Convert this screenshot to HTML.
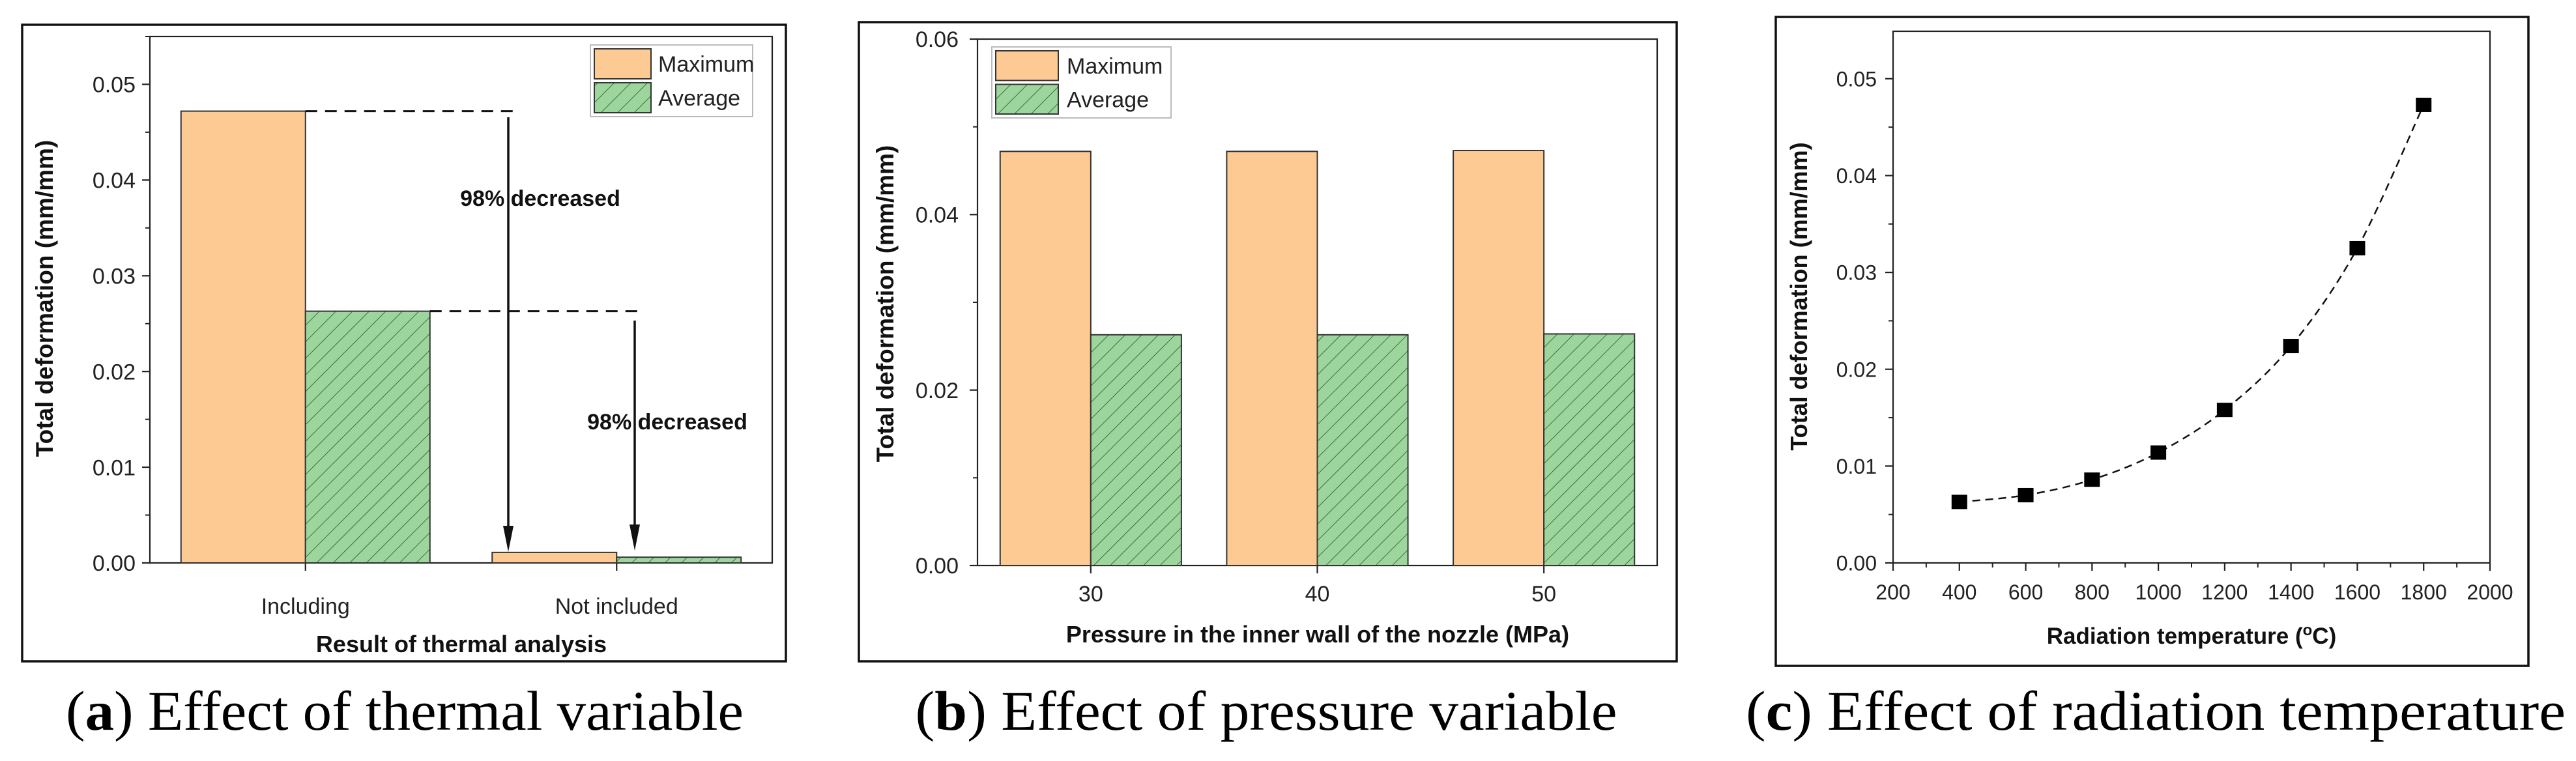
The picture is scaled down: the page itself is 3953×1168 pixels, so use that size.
<!DOCTYPE html>
<html><head><meta charset="utf-8"><style>
html,body{margin:0;padding:0;background:#fff;}
svg{display:block;font-family:"Liberation Sans",Arial,sans-serif;}
.cap{font-family:"Liberation Serif",serif;font-size:86px;}
</style></head><body>
<svg id="root" xmlns="http://www.w3.org/2000/svg" width="3953" height="1168" viewBox="0 0 3953 1168">
<defs>
<pattern id="hatch" patternUnits="userSpaceOnUse" width="18" height="18" patternTransform="rotate(45)">
<rect width="18" height="18" fill="#9dd69c"/>
<line x1="0" y1="0" x2="0" y2="18" stroke="#2f4f2f" stroke-width="1.6"/>
</pattern>
</defs>
</svg>
<script>
// Panel A data
const aCategories = ["Including", "Not included"];
const aMaximum = [0.0472, 0.0011];
const aAverage = [0.0263, 0.0006];
const aYTicks = [0.00, 0.01, 0.02, 0.03, 0.04, 0.05];
// Panel B data
const bCategories = [30, 40, 50];
const bMaximum = [0.0472, 0.0472, 0.0473];
const bAverage = [0.0263, 0.0263, 0.0264];
const bYTicks = [0.00, 0.02, 0.04, 0.06];
// Panel C data
const cTemps = [400, 600, 800, 1000, 1200, 1400, 1600, 1800];
const cDeform = [0.0063, 0.0070, 0.0086, 0.0114, 0.0158, 0.0224, 0.0325, 0.0473];
const cXTicks = [200, 400, 600, 800, 1000, 1200, 1400, 1600, 1800, 2000];
const cYTicks = [0.00, 0.01, 0.02, 0.03, 0.04, 0.05];

const NS = "http://www.w3.org/2000/svg";
const root = document.getElementById("root");
function mk(tag, attrs, parent) {
  const e = document.createElementNS(NS, tag);
  for (const k in attrs) e.setAttribute(k, attrs[k]);
  (parent || root).appendChild(e);
  return e;
}
function txt(s, attrs, parent) { const t = mk("text", attrs, parent); t.textContent = s; return t; }
function lin(d0, d1, r0, r1) { return v => r0 + (v - d0) / (d1 - d0) * (r1 - r0); }

function frame(x, y, w, h, name) {
  const r = mk("rect", {x, y, width: w, height: h, fill: "none", stroke: "#111", "stroke-width": 3.5});
  
  
}
function axesBox(x0, y0, x1, y1, name) {
  const g = mk("g", {});
  
  
  mk("rect", {x: x0, y: y0, width: x1 - x0, height: y1 - y0, fill: "none", stroke: "#222", "stroke-width": 2.2}, g);
  return g;
}
function yAxis(ticks, ys, xAxis, minorStep, yMax, fmt, fs, labelRight) {
  const g = mk("g", {});
  
  
  ticks.forEach(v => {
    mk("line", {x1: xAxis - 12, x2: xAxis, y1: ys(v), y2: ys(v), stroke: "#222", "stroke-width": 2.2}, g);
    const t = txt(v.toFixed(fmt), {x: labelRight, y: ys(v) + fs * 0.36, "font-size": fs, "text-anchor": "end", fill: "#222"}, g);
    
    
  });
  for (let v = minorStep; v <= yMax + 1e-9; v += minorStep * 2) {
    mk("line", {x1: xAxis - 7, x2: xAxis, y1: ys(v), y2: ys(v), stroke: "#222", "stroke-width": 2}, g);
  }
}
function yTitle(x, y, fs) {
  const t = txt("Total deformation (mm/mm)", {x: 0, y: 0, "font-size": fs, "font-weight": "bold", "text-anchor": "middle", transform: `translate(${x},${y}) rotate(-90)`, fill: "#111"});
  
  
}
function caption(letter, rest, cx, len) {
  const t = mk("text", {x: cx, y: 1120, "text-anchor": "middle", class: "cap", textLength: len, lengthAdjust: "spacingAndGlyphs", fill: "#000"});
  
  
  const s1 = document.createElementNS(NS, "tspan"); s1.textContent = "("; t.appendChild(s1);
  const s2 = document.createElementNS(NS, "tspan"); s2.setAttribute("font-weight", "bold"); s2.textContent = letter; t.appendChild(s2);
  const s3 = document.createElementNS(NS, "tspan"); s3.textContent = ") " + rest; t.appendChild(s3);
}
function legend(x, y, w, h, sx, sw, tx, fs, name) {
  const g = mk("g", {});
  
  
  mk("rect", {x, y, width: w, height: h, fill: "#fff", stroke: "#bbb", "stroke-width": 2}, g);
  const rh = (h - 18) / 2;
  const r1 = mk("rect", {x: sx, y: y + 6, width: sw, height: rh, fill: "#fdca94", stroke: "#333", "stroke-width": 2}, g);
  
  const r2 = mk("rect", {x: sx, y: y + 12 + rh, width: sw, height: rh, fill: "url(#hatch)", stroke: "#333", "stroke-width": 2}, g);
  
  const t1 = txt("Maximum", {x: tx, y: y + 6 + rh / 2 + fs * 0.36, "font-size": fs, fill: "#222"}, g);
  
  
  const t2 = txt("Average", {x: tx, y: y + 12 + rh * 1.5 + fs * 0.36, "font-size": fs, fill: "#222"}, g);
  
  
}
function bar(x0, x1, y0, y1, avg, name) {
  const r = mk("rect", {x: x0, y: y1, width: x1 - x0, height: y0 - y1, fill: avg ? "url(#hatch)" : "#fdca94", stroke: "#333", "stroke-width": 2});
  
  
}

// ===== Panel A =====
frame(34, 38, 1172, 977, 'panel-a-frame');
{
  const X0 = 230, X1 = 1185, Y0 = 864, Y1 = 56;
  const xs = lin(0.5, 2.5, X0, X1), ys = lin(0, 0.055, Y0, Y1);
  axesBox(X0, Y1, X1, Y0, 'panel-a-axes');
  aCategories.forEach((c, i) => {
    const cx = xs(i + 1);
    bar(xs(i + 1 - 0.4), cx, Y0, ys(aMaximum[i]), false, 'bar-maximum-' + i);
    bar(cx, xs(i + 1 + 0.4), Y0, ys(aAverage[i]), true, 'bar-average-' + i);
    mk("line", {x1: cx, x2: cx, y1: Y0, y2: Y0 + 12, stroke: "#222", "stroke-width": 2.2});
    const t = txt(c, {x: cx, y: 942, "font-size": 34, "text-anchor": "middle", fill: "#222"});
    
    
  });
  yAxis(aYTicks, ys, X0, 0.005, 0.055, 2, 34, 208);
  yTitle(81, 458, 37);
  const xt = txt("Result of thermal analysis", {x: 708, y: 1001, "font-size": 36, "font-weight": "bold", "text-anchor": "middle", fill: "#111"});
  
  
  // dashed reference lines
  const d1 = mk("line", {x1: xs(1), x2: 797, y1: ys(aMaximum[0]), y2: ys(aMaximum[0]), stroke: "#111", "stroke-width": 3, "stroke-dasharray": "18 12"});
  
  
  const d2 = mk("line", {x1: xs(1.4), x2: 988, y1: ys(aAverage[0]), y2: ys(aAverage[0]), stroke: "#111", "stroke-width": 3, "stroke-dasharray": "18 12"});
  
  
  function arrow(x, yTop, yBot, name) {
    const g = mk("g", {});
    
    
    mk("line", {x1: x, x2: x, y1: yTop, y2: yBot - 36, stroke: "#111", "stroke-width": 3.5}, g);
    mk("polygon", {points: `${x - 8},${yBot - 40} ${x + 8},${yBot - 40} ${x},${yBot}`, fill: "#111"}, g);
  }
  arrow(780, 180, 847, 'arrow-maximum');
  arrow(974, 492, 845, 'arrow-average');
  const a1 = txt("98% decreased", {x: 829, y: 316, "font-size": 34, "font-weight": "bold", "text-anchor": "middle", fill: "#111"});
  
  
  const a2 = txt("98% decreased", {x: 1024, y: 659, "font-size": 34, "font-weight": "bold", "text-anchor": "middle", fill: "#111"});
  
  
  legend(906, 69, 249, 110, 912, 87, 1010, 34, 'legend-a');
}
caption("a", "Effect of thermal variable", 621, 1040);

// ===== Panel B =====
frame(1318, 34, 1255, 981, 'panel-b-frame');
{
  const X0 = 1500, X1 = 2543, Y0 = 868, Y1 = 60;
  const xs = lin(25, 55, X0, X1), ys = lin(0, 0.06, Y0, Y1);
  axesBox(X0, Y1, X1, Y0, 'panel-b-axes');
  bCategories.forEach((c, i) => {
    const cx = xs(c);
    bar(xs(c - 4), cx, Y0, ys(bMaximum[i]), false, 'bar-maximum-' + c);
    bar(cx, xs(c + 4), Y0, ys(bAverage[i]), true, 'bar-average-' + c);
    mk("line", {x1: cx, x2: cx, y1: Y0, y2: Y0 + 12, stroke: "#222", "stroke-width": 2.2});
    const t = txt(String(c), {x: cx, y: 923, "font-size": 34, "text-anchor": "middle", fill: "#222"});
    
    
  });
  yAxis(bYTicks, ys, X0, 0.01, 0.06, 2, 34, 1471);
  yTitle(1371, 466, 37);
  const xt = txt("Pressure in the inner wall of the nozzle (MPa)", {x: 2022, y: 986, "font-size": 36, "font-weight": "bold", "text-anchor": "middle", fill: "#111"});
  
  
  legend(1522, 72, 275, 109, 1528, 96, 1637, 34, 'legend-b');
}
caption("b", "Effect of pressure variable", 1943, 1077);

// ===== Panel C =====
frame(2725, 26, 1155, 996, 'panel-c-frame');
{
  const X0 = 2905, X1 = 3821, Y0 = 864, Y1 = 48;
  const xs = lin(200, 2000, X0, X1), ys = lin(0, 0.0549, Y0, Y1);
  axesBox(X0, Y1, X1, Y0, 'panel-c-axes');
  cXTicks.forEach(v => {
    mk("line", {x1: xs(v), x2: xs(v), y1: Y0, y2: Y0 + 12, stroke: "#222", "stroke-width": 2.2});
    mk("line", {x1: xs(v + 100), x2: xs(v + 100), y1: Y0, y2: Y0 + 7, stroke: v < 2000 ? "#222" : "none", "stroke-width": 2});
    const t = txt(String(v), {x: xs(v), y: 920, "font-size": 32, "text-anchor": "middle", fill: "#222"});
    
    
  });
  yAxis(cYTicks, ys, X0, 0.005, 0.0549, 2, 32, 2880);
  yTitle(2773, 455, 36);
  const xt = txt("Radiation temperature (", {x: 0, y: 0, "font-size": 35, "font-weight": "bold", fill: "#111"});
  
  
  xt.setAttribute("x", 3363); xt.setAttribute("y", 988); xt.setAttribute("text-anchor", "middle");
  xt.textContent = "";
  const p1 = document.createElementNS(NS, "tspan"); p1.textContent = "Radiation temperature ("; xt.appendChild(p1);
  const p2 = document.createElementNS(NS, "tspan"); p2.setAttribute("baseline-shift", "super"); p2.setAttribute("font-size", 24); p2.textContent = "o"; xt.appendChild(p2);
  const p3 = document.createElementNS(NS, "tspan"); p3.textContent = "C)"; xt.appendChild(p3);
  // smooth dashed curve (Catmull-Rom through points)
  const P = cTemps.map((t, i) => [xs(t), ys(cDeform[i])]);
  let d = `M${P[0][0]},${P[0][1]}`;
  for (let i = 0; i < P.length - 1; i++) {
    const p0 = P[Math.max(0, i - 1)], p1 = P[i], p2 = P[i + 1], p3 = P[Math.min(P.length - 1, i + 2)];
    const c1 = [p1[0] + (p2[0] - p0[0]) / 6, p1[1] + (p2[1] - p0[1]) / 6];
    const c2 = [p2[0] - (p3[0] - p1[0]) / 6, p2[1] - (p3[1] - p1[1]) / 6];
    d += ` C${c1[0]},${c1[1]} ${c2[0]},${c2[1]} ${p2[0]},${p2[1]}`;
  }
  const curve = mk("path", {d, fill: "none", stroke: "#111", "stroke-width": 2.5, "stroke-dasharray": "12 8"});
  
  
  P.forEach((p, i) => {
    const m = mk("rect", {x: p[0] - 12, y: p[1] - 11, width: 24, height: 22, fill: "#000"});
    
    
  });
}
caption("c", "Effect of radiation temperature", 3308, 1258);
</script>
</body></html>
